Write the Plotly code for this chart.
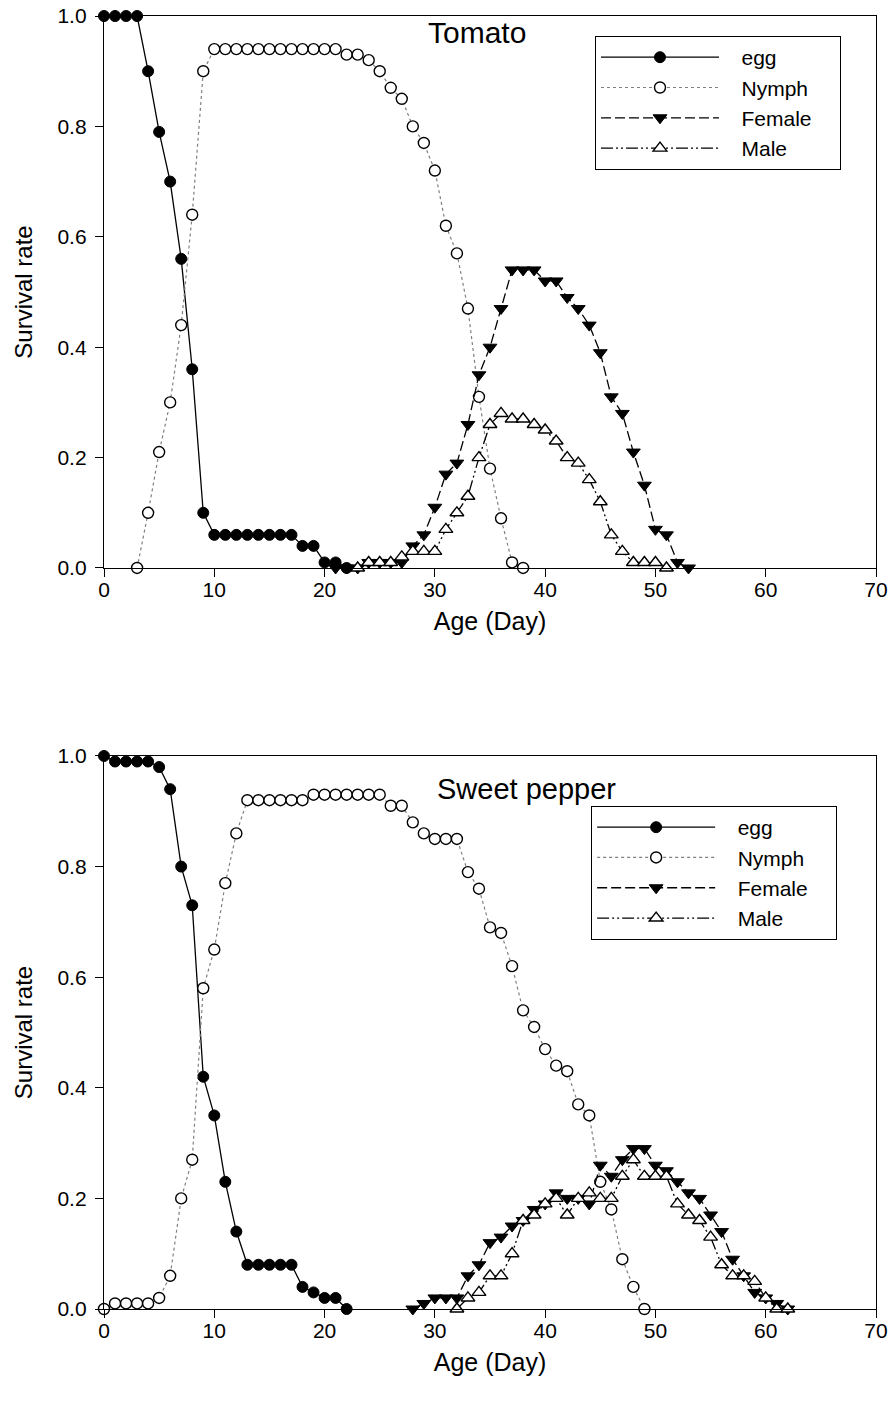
import plotly.graph_objects as go

# ---------------- Data ----------------
# Tomato
tomato_egg_days = [0, 1, 2, 3, 4, 5, 6, 7, 8, 9, 10, 11, 12, 13, 14, 15, 16, 17, 18, 19, 20, 21, 22]
tomato_egg = [1.0, 1.0, 1.0, 1.0, 0.90, 0.79, 0.70, 0.56, 0.36, 0.10, 0.06, 0.06, 0.06, 0.06, 0.06,
              0.06, 0.06, 0.06, 0.04, 0.04, 0.01, 0.01, 0.0]

tomato_nymph_days = [3, 4, 5, 6, 7, 8, 9, 10, 11, 12, 13, 14, 15, 16, 17, 18, 19, 20, 21, 22, 23, 24,
                     25, 26, 27, 28, 29, 30, 31, 32, 33, 34, 35, 36, 37, 38]
tomato_nymph = [0.0, 0.10, 0.21, 0.30, 0.44, 0.64, 0.90, 0.94, 0.94, 0.94, 0.94, 0.94, 0.94, 0.94,
                0.94, 0.94, 0.94, 0.94, 0.94, 0.93, 0.93, 0.92, 0.90, 0.87, 0.85, 0.80, 0.77, 0.72,
                0.62, 0.57, 0.47, 0.31, 0.18, 0.09, 0.01, 0.0]

tomato_female_days = [21, 22, 23, 24, 25, 26, 27, 28, 29, 30, 31, 32, 33, 34, 35, 36, 37, 38, 39, 40,
                      41, 42, 43, 44, 45, 46, 47, 48, 49, 50, 51, 52, 53]
tomato_female = [0.0, 0.0, 0.0, 0.01, 0.01, 0.01, 0.01, 0.04, 0.06, 0.11, 0.17, 0.19, 0.26, 0.35,
                 0.40, 0.47, 0.54, 0.54, 0.54, 0.52, 0.52, 0.49, 0.47, 0.44, 0.39, 0.31, 0.28, 0.21,
                 0.15, 0.07, 0.06, 0.01, 0.0]

tomato_male_days = [23, 24, 25, 26, 27, 28, 29, 30, 31, 32, 33, 34, 35, 36, 37, 38, 39, 40, 41, 42,
                    43, 44, 45, 46, 47, 48, 49, 50, 51]
tomato_male = [0.0, 0.01, 0.01, 0.01, 0.02, 0.03, 0.03, 0.03, 0.07, 0.10, 0.13, 0.20, 0.26, 0.28,
               0.27, 0.27, 0.26, 0.25, 0.23, 0.20, 0.19, 0.16, 0.12, 0.06, 0.03, 0.01, 0.01, 0.01, 0.0]

# Sweet pepper
pepper_egg_days = [0, 1, 2, 3, 4, 5, 6, 7, 8, 9, 10, 11, 12, 13, 14, 15, 16, 17, 18, 19, 20, 21, 22]
pepper_egg = [1.0, 0.99, 0.99, 0.99, 0.99, 0.98, 0.94, 0.80, 0.73, 0.42, 0.35, 0.23, 0.14, 0.08,
              0.08, 0.08, 0.08, 0.08, 0.04, 0.03, 0.02, 0.02, 0.0]

pepper_nymph_days = [0, 1, 2, 3, 4, 5, 6, 7, 8, 9, 10, 11, 12, 13, 14, 15, 16, 17, 18, 19, 20, 21,
                     22, 23, 24, 25, 26, 27, 28, 29, 30, 31, 32, 33, 34, 35, 36, 37, 38, 39, 40, 41,
                     42, 43, 44, 45, 46, 47, 48, 49]
pepper_nymph = [0.0, 0.01, 0.01, 0.01, 0.01, 0.02, 0.06, 0.20, 0.27, 0.58, 0.65, 0.77, 0.86, 0.92,
                0.92, 0.92, 0.92, 0.92, 0.92, 0.93, 0.93, 0.93, 0.93, 0.93, 0.93, 0.93, 0.91, 0.91,
                0.88, 0.86, 0.85, 0.85, 0.85, 0.79, 0.76, 0.69, 0.68, 0.62, 0.54, 0.51, 0.47, 0.44,
                0.43, 0.37, 0.35, 0.23, 0.18, 0.09, 0.04, 0.0]

pepper_female_days = [28, 29, 30, 31, 32, 33, 34, 35, 36, 37, 38, 39, 40, 41, 42, 43, 44, 45, 46, 47,
                      48, 49, 50, 51, 52, 53, 54, 55, 56, 57, 58, 59, 60, 61, 62]
pepper_female = [0.0, 0.01, 0.02, 0.02, 0.02, 0.06, 0.08, 0.12, 0.13, 0.15, 0.16, 0.18, 0.19, 0.21,
                 0.20, 0.20, 0.19, 0.26, 0.24, 0.27, 0.29, 0.29, 0.26, 0.25, 0.23, 0.21, 0.20, 0.17,
                 0.14, 0.09, 0.06, 0.03, 0.02, 0.01, 0.0]

pepper_male_days = [32, 33, 34, 35, 36, 37, 38, 39, 40, 41, 42, 43, 44, 45, 46, 47, 48, 49, 50, 51,
                    52, 53, 54, 55, 56, 57, 58, 59, 60, 61, 62]
pepper_male = [0.0, 0.02, 0.03, 0.06, 0.06, 0.10, 0.16, 0.17, 0.19, 0.20, 0.17, 0.20, 0.21, 0.20,
               0.20, 0.24, 0.27, 0.24, 0.24, 0.24, 0.19, 0.17, 0.16, 0.13, 0.08, 0.06, 0.06, 0.05,
               0.02, 0.0, 0.0]

series_names = ["egg", "Nymph", "Female", "Male"]
panel_titles = ["Tomato", "Sweet pepper"]
x_ticks = [0, 10, 20, 30, 40, 50, 60, 70]
y_ticks = [0.0, 0.2, 0.4, 0.6, 0.8, 1.0]

# ---------------- Styles ----------------
FONT = "Liberation Sans, Arial, sans-serif"
NB = "\u00a0"
styles = {
    "egg": dict(line=dict(color="black", width=1.3, dash="solid"),
                marker=dict(symbol="circle", size=11, color="black",
                            line=dict(color="black", width=1))),
    "Nymph": dict(line=dict(color="#808080", width=1.2, dash="dot"),
                  marker=dict(symbol="circle", size=11, color="white",
                              line=dict(color="black", width=1.4))),
    "Female": dict(line=dict(color="black", width=1.3, dash="10px,4px"),
                   marker=dict(symbol="triangle-down", size=12, color="black",
                               line=dict(color="black", width=1))),
    "Male": dict(line=dict(color="black", width=1.3, dash="12px,3px,2px,3px,2px,3px"),
                 marker=dict(symbol="triangle-up", size=12, color="white",
                             line=dict(color="black", width=1.4))),
}

panels = [
    [(tomato_egg_days, tomato_egg), (tomato_nymph_days, tomato_nymph),
     (tomato_female_days, tomato_female), (tomato_male_days, tomato_male)],
    [(pepper_egg_days, pepper_egg), (pepper_nymph_days, pepper_nymph),
     (pepper_female_days, pepper_female), (pepper_male_days, pepper_male)],
]

fig = go.Figure()
for p, panel in enumerate(panels):
    xa = "x" if p == 0 else "x2"
    ya = "y" if p == 0 else "y2"
    lg = "legend" if p == 0 else "legend2"
    for name, (days, vals) in zip(series_names, panel):
        st = styles[name]
        fig.add_trace(go.Scatter(
            x=days, y=vals, name=NB * 3 + name + NB * 4, mode="lines+markers",
            line=st["line"], marker=st["marker"],
            xaxis=xa, yaxis=ya, legend=lg, cliponaxis=False,
        ))

axis_common = dict(
    showline=True, mirror=True, linecolor="black", linewidth=1.3,
    ticks="outside", ticklen=8, tickwidth=1.2, tickcolor="black",
    showgrid=False, zeroline=False, automargin=False,
    tickfont=dict(family=FONT, size=21, color="black"),
)

xcommon = dict(axis_common, range=[0, 70], tickvals=x_ticks, ticklabelstandoff=-5,
               title=dict(text="Age (Day)", font=dict(family=FONT, size=25, color="black"),
                          standoff=12))
ycommon = dict(axis_common, range=[0, 1.0], tickvals=y_ticks, tickformat=".1f",
               ticklabelstandoff=4,
               title=dict(text="Survival rate", font=dict(family=FONT, size=24, color="black"),
                          standoff=18))

legend_common = dict(
    bgcolor="white", bordercolor="black", borderwidth=1,
    font=dict(family=FONT, size=21, color="black"),
    xanchor="left", yanchor="top", tracegroupgap=0,
    itemwidth=118,
)

fig.update_layout(
    width=889, height=1403,
    margin=dict(l=104, r=13, t=16, b=94),
    paper_bgcolor="white", plot_bgcolor="white",
    showlegend=True,
    xaxis=dict(xcommon, domain=[0, 1], anchor="y"),
    yaxis=dict(ycommon, domain=[0.5731, 1.0], anchor="x"),
    xaxis2=dict(xcommon, domain=[0, 1], anchor="y2"),
    yaxis2=dict(ycommon, domain=[0.0, 0.4277], anchor="x2"),
    legend=dict(legend_common, x=0.636, y=0.9845),
    legend2=dict(legend_common, x=0.631, y=0.389),
    annotations=[
        dict(text=panel_titles[0], x=33.8, y=0.97, xref="x", yref="y", showarrow=False,
             font=dict(family=FONT, size=30, color="black")),
        dict(text=panel_titles[1], x=38.3, y=0.94, xref="x2", yref="y2", showarrow=False,
             font=dict(family=FONT, size=29, color="black")),
    ],
)

fig.write_html("out.html", config={"displayModeBar": False},
               post_script="document.body.style.margin='0';document.body.style.overflow='hidden';")
